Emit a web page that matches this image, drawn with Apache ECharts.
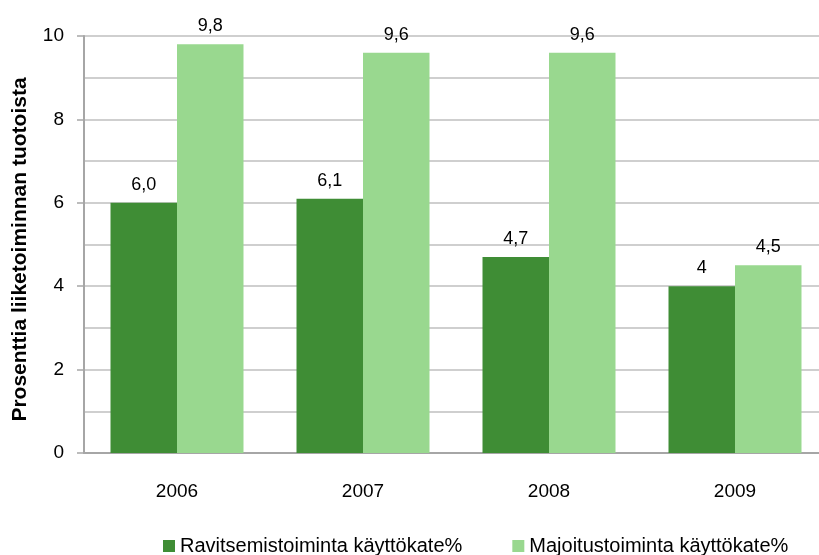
<!DOCTYPE html>
<html>
<head>
<meta charset="utf-8">
<script src="https://cdn.jsdelivr.net/npm/echarts@6/dist/echarts.min.js"></script>
<style>
  html, body { margin: 0; padding: 0; background: #fff; }
  #main { width: 819px; height: 555px; }
</style>
</head>
<body>
<div id="main"></div>
<script>
// 数据
const years = ['2006', '2007', '2008', '2009'];
const ravitsemis = [6.0, 6.1, 4.7, 4.0];
const majoitus = [9.8, 9.6, 9.6, 4.5];
const ravitsemisLabels = ['6,0', '6,1', '4,7', '4'];
const majoitusLabels = ['9,8', '9,6', '9,6', '4,5'];

const chart = echarts.init(document.getElementById('main'));

const font = 'Arial, Liberation Sans, sans-serif';

chart.setOption({
  animation: false,
  color: ['#3f8d35', '#99d88f'],
  grid: { // 图表大小，右侧超出画布
    left: 84,
    width: 744,
    top: 36,
    height: 417,
    containLabel: false,
    outerBoundsMode: 'none'
  },
  legend: {
    top: 531,
    left: 158,
    itemWidth: 12,
    itemHeight: 12,
    itemGap: 50,
    icon: 'rect',
    textStyle: {
      color: '#000',
      fontFamily: font,
      fontSize: 20
    },
    data: ['Ravitsemistoiminta käyttökate%', 'Majoitustoiminta käyttökate%']
  },
  xAxis: {
    type: 'category',
    data: years,
    axisLine: { lineStyle: { color: '#a6a6a6', width: 2 } },
    axisTick: { show: false },
    axisLabel: { color: '#000', fontFamily: font, fontSize: 19, margin: 29 }
  },
  yAxis: {
    type: 'value',
    min: 0,
    max: 10,
    interval: 2,
    name: 'Prosenttia liiketoiminnan tuotoista',
    nameLocation: 'middle',
    nameGap: 53,
    nameTextStyle: {
      color: '#000',
      fontFamily: font,
      fontSize: 21,
      fontWeight: 'bold',
      padding: [0, 10, 0, 0]
    },
    axisLine: { show: true, lineStyle: { color: '#a6a6a6', width: 2 } },
    axisTick: { show: true, length: 7, lineStyle: { color: '#a6a6a6', width: 1.5 } },
    axisLabel: { color: '#000', fontFamily: font, fontSize: 19, margin: 20 },
    splitLine: { lineStyle: { color: '#cfcfcf', width: 2 } },
    minorTick: { show: false, splitNumber: 2 },
    minorSplitLine: { show: true, lineStyle: { color: '#cfcfcf', width: 2 } }
  },
  series: [{
    name: 'Ravitsemistoiminta käyttökate%',
    type: 'bar',
    data: ravitsemis,
    barGap: '0%',
    barCategoryGap: '28.5%',
    label: {
      show: true,
      position: 'top',
      distance: 9,
      color: '#000',
      fontFamily: font,
      fontSize: 18,
      formatter: p => ravitsemisLabels[p.dataIndex]
    }
  }, {
    name: 'Majoitustoiminta käyttökate%',
    type: 'bar',
    data: majoitus,
    label: {
      show: true,
      position: 'top',
      distance: 9,
      color: '#000',
      fontFamily: font,
      fontSize: 18,
      formatter: p => majoitusLabels[p.dataIndex]
    }
  }]
});
</script>
</body>
</html>
